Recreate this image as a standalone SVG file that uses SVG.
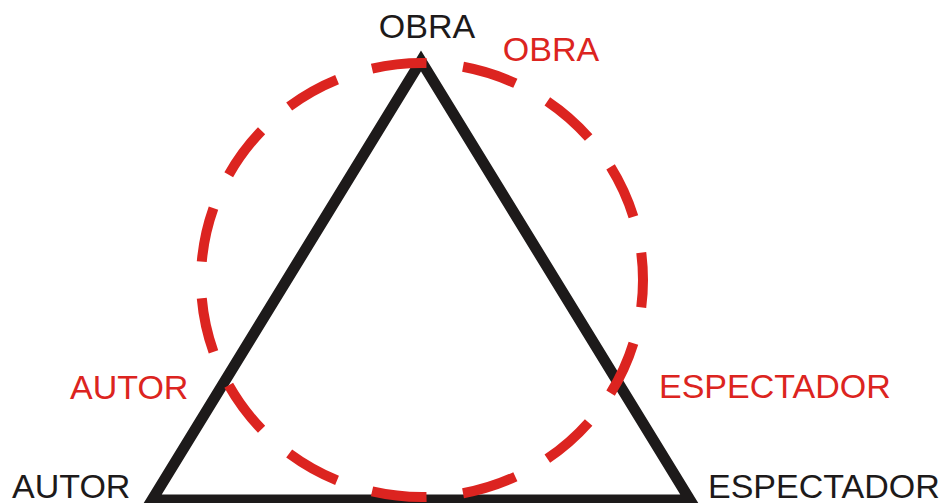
<svg xmlns="http://www.w3.org/2000/svg" width="943" height="503" viewBox="0 0 943 503">
<style>
text{font-family:"Liberation Sans",Arial,sans-serif;font-size:34px}
.k{fill:#1d1a1a}
.r{fill:#dc2420}
</style>
<rect width="943" height="503" fill="#fff"/>
<g id="triangle">
<polygon points="421,61 152,500 690,500" fill="none" stroke="#1d1a1a" stroke-width="11" stroke-linejoin="miter" stroke-miterlimit="10"/>
</g>
<g id="circle">
<ellipse cx="422" cy="280" rx="221" ry="217" fill="none" stroke="#dc2420" stroke-width="10" pathLength="1500" stroke-dasharray="60 40" stroke-dashoffset="30"/>
</g>
<g id="obra-black"><text class="k" x="427" y="38" text-anchor="middle">OBRA</text></g>
<g id="obra-red"><text class="r" x="551" y="61" text-anchor="middle">OBRA</text></g>
<g id="autor-red"><text class="r" x="70" y="399">AUTOR</text></g>
<g id="autor-black"><text class="k" x="12" y="498">AUTOR</text></g>
<g id="espectador-red"><text class="r" x="659" y="398">ESPECTADOR</text></g>
<g id="espectador-black"><text class="k" x="708" y="498">ESPECTADOR</text></g>
<g id="connectors"></g>
</svg>
